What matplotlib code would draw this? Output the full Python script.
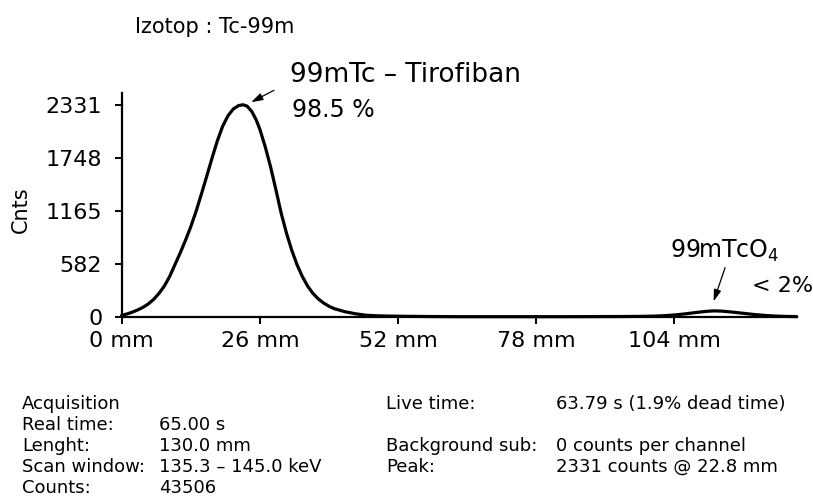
import matplotlib
matplotlib.use("Agg")
import matplotlib.pyplot as plt

plt.rcParams["font.family"] = ["DejaVu Sans"]

# radio-TLC scan of the strip: position (mm) vs counts
pos_mm = [0, 1, 2, 3, 4, 5, 6, 7, 8, 9, 10, 11, 12, 13, 14, 15, 16, 17, 18,
          19, 20, 21, 22, 22.8, 23.6, 24.5, 25.3, 26, 27, 28, 29, 30, 31, 32,
          33, 34, 35, 36, 37, 38, 39, 40, 42, 44, 46, 48, 50, 54, 58, 64, 70,
          76, 82, 88, 94, 98, 100, 102, 104, 106, 108, 110, 111.5, 113, 115,
          117, 119, 121, 123, 125, 127]
counts = [15, 30, 50, 74, 103, 140, 190, 255, 335, 440, 570, 700, 840, 990,
          1160, 1350, 1545, 1745, 1935, 2095, 2210, 2285, 2322, 2331, 2316,
          2255, 2165, 2060, 1870, 1650, 1400, 1140, 920, 730, 570, 440, 335,
          255, 195, 150, 115, 88, 55, 32, 16, 10, 7, 4, 2, 0, 0, 0, 0, 1, 2, 4,
          6, 11, 19, 31, 46, 59, 64, 61, 50, 37, 24, 14, 7, 3, 1]

y_ticks = [0, 582, 1165, 1748, 2331]
x_ticks = [0, 26, 52, 78, 104]
x_ticklabels = ["0 mm", "26 mm", "52 mm", "78 mm", "104 mm"]

info_left = [("Acquisition", ""),
             ("Real time:", "65.00 s"),
             ("Lenght:", "130.0 mm"),
             ("Scan window:", "135.3 \u2013 145.0 keV"),
             ("Counts:", "43506")]
info_right = [("Live time:", "63.79 s (1.9% dead time)"),
              ("", ""),
              ("Background sub:", "0 counts per channel"),
              ("Peak:", "2331 counts @ 22.8 mm"),
              ("", "")]

W, H = 813, 497
fig = plt.figure(figsize=(W / 100, H / 100), dpi=100)
ax = fig.add_axes([121.7 / W, 1 - 316.7 / H, (796.7 - 121.7) / W, (316.7 - 93.3) / H])

ax.plot(pos_mm, counts, color="black", lw=2.3, solid_joinstyle="round",
        solid_capstyle="round", clip_on=False, zorder=3)

ax.set_xlim(0, 127)
ax.set_ylim(0, 2457)
ax.set_xticks(x_ticks)
ax.set_xticklabels(x_ticklabels)
ax.set_yticks(y_ticks)
ax.tick_params(axis="both", direction="out", length=5, width=1.4, labelsize=16,
               colors="black")
ax.tick_params(axis="y", pad=9)
ax.tick_params(axis="x", pad=5)
for s in ["top", "right"]:
    ax.spines[s].set_visible(False)
for s in ["left", "bottom"]:
    ax.spines[s].set_linewidth(1.6)
ax.set_ylabel("Cnts", fontsize=15)
ax.yaxis.set_label_coords(-0.134, 0.48)


def px(x, y):
    return x / W, 1 - y / H


fig.text(*px(135, 27), "Izotop : Tc-99m", fontsize=15, va="center")

# peak annotations
fig.text(*px(290, 75), "99mTc \u2013 Tirofiban", fontsize=19, va="center")
fig.text(*px(292, 110), "98.5 %", fontsize=17, va="center")
ax.annotate("", xy=(23.9, 2345), xytext=(29.1, 2504),
            arrowprops=dict(arrowstyle="-|>,head_length=0.7,head_width=0.22",
                            color="black", lw=0.9),
            annotation_clip=False)

fig.text(*px(670, 251), "99mTcO$_4$", fontsize=17, va="center")
fig.text(*px(752, 286), "< 2%", fontsize=16, va="center")
ax.annotate("", xy=(111.2, 140), xytext=(113.7, 569),
            arrowprops=dict(arrowstyle="-|>,head_length=0.7,head_width=0.22",
                            color="black", lw=0.9),
            annotation_clip=False)

# acquisition summary below the plot
row_y = [404, 425, 446, 467, 488]
for (lab, val), y in zip(info_left, row_y):
    fig.text(*px(22, y), lab, fontsize=13, va="center")
    fig.text(*px(159, y), val, fontsize=13, va="center")
for (lab, val), y in zip(info_right, row_y):
    fig.text(*px(386, y), lab, fontsize=13, va="center")
    fig.text(*px(556, y), val, fontsize=13, va="center")

fig.savefig("out.png", dpi=100)
